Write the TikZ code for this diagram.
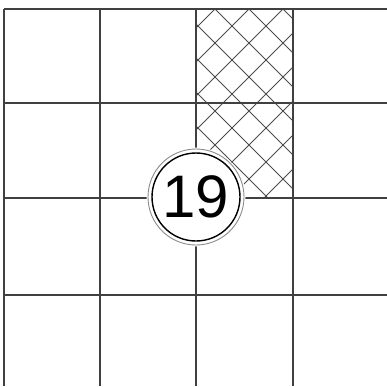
\documentclass[tikz,border=0pt]{standalone}
\usepackage{fontspec}
\setmainfont{Liberation Sans}
\usepackage{tikz}
\usetikzlibrary{calc}

\begin{document}
\begin{tikzpicture}[x=1pt,y=-1pt,line join=round]
  \tikzset{gridline/.style={line width=1.3pt,black!75},
           hatchline/.style={line width=1pt,black!70},
           numberdisc/.style={circle,draw=black,line width=1.4pt,fill=white,
             minimum size=88pt,inner sep=0pt,font=\fontsize{60}{60}\selectfont}}
  \useasboundingbox (0,0) rectangle (387,386);
  % hatched block (column 3, rows 1-2)
  \coordinate (HA) at (196,9);
  \coordinate (HB) at (293,198);
  \begin{scope}
    \clip (HA) rectangle (HB);
    \foreach \c in {-8,...,9} {
      \draw[hatchline] ({206+34*\c-300},-300) -- ({206+34*\c+300},300);
      \draw[hatchline] ({224+34*\c+300},-300) -- ({224+34*\c-300},300);
    }
  \end{scope}
  % grid
  \foreach \gx in {4,100,196,293}
    \draw[gridline] (\gx,9) -- (\gx,386);
  \foreach \gy in {9,103,198,295}
    \draw[gridline] (4,\gy) -- (387,\gy);
  % number disc
  \coordinate (C) at (196,197);
  \fill[white] (C) circle (49.5);
  \draw[black!45,line width=0.9pt] (C) circle (48);
  \node[numberdisc] (num) at (C) {19};
\end{tikzpicture}
\end{document}
